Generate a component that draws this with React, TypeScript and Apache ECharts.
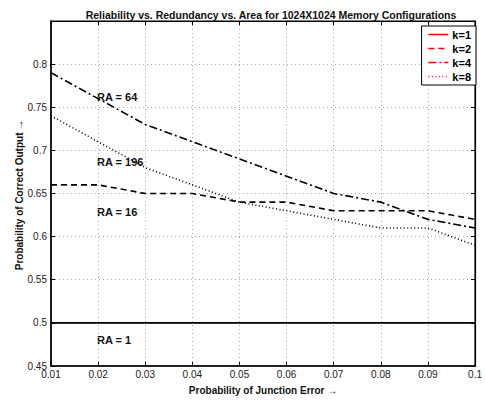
import React, { useEffect, useRef } from "react";
import * as echarts from "echarts";

const xValues = [0.01, 0.02, 0.03, 0.04, 0.05, 0.06, 0.07, 0.08, 0.09, 0.1];
const k1 = [0.5, 0.5, 0.5, 0.5, 0.5, 0.5, 0.5, 0.5, 0.5, 0.5];
const k2 = [0.66, 0.66, 0.65, 0.65, 0.64, 0.64, 0.63, 0.63, 0.63, 0.62];
const k4 = [0.79, 0.76, 0.73, 0.71, 0.69, 0.67, 0.65, 0.64, 0.62, 0.61];
const k8 = [0.74, 0.71, 0.68, 0.66, 0.64, 0.63, 0.62, 0.61, 0.61, 0.59];
const seriesNames = ["k=1", "k=2", "k=4", "k=8"];
const raLabels = ["RA = 64", "RA = 196", "RA = 16", "RA = 1"];
const yAxisTitle = "Probability of Correct Output \u2192";
const xAxisTitle = "Probability of Junction Error \u2192";

const FONT = "Liberation Sans, Arial, Helvetica, sans-serif";

export default function App() {
  const ref = useRef<HTMLDivElement>(null);
  useEffect(() => {
    if (!ref.current) return;
    const chart = echarts.init(ref.current, undefined, { renderer: "svg" });
    const pair = (ys: number[]) => xValues.map((x, i) => [x, ys[i]]);
    const mk = (name: string, ys: number[], type: any) => ({
      name,
      type: "line",
      data: pair(ys),
      showSymbol: false,
      symbol: "none",
      color: "#000",
      lineStyle: { color: "#000", width: 1.6, type },
      z: 3,
    });
    const axisLabelStyle = { color: "#222", fontSize: 10, fontFamily: FONT };
    chart.setOption({
      animation: false,
      backgroundColor: "#fff",
      title: {
        text: "Reliability vs. Redundancy vs. Area for 1024X1024 Memory Configurations",
        left: 266,
        textAlign: "center",
        top: 4,
        textStyle: { fontSize: 10.5, fontWeight: "bold", color: "#111", fontFamily: FONT },
      },
      grid: {
        left: 51,
        right: 6,
        top: 21,
        bottom: 30,
        show: true,
        borderColor: "#000",
        borderWidth: 1.2,
        backgroundColor: "#fff",
      },
      legend: {
        right: 9,
        top: 26,
        orient: "vertical",
        data: seriesNames,
        backgroundColor: "#fff",
        borderColor: "#000",
        borderWidth: 1,
        borderRadius: 0,
        padding: [3, 5, 3, 6],
        itemGap: 3,
        itemWidth: 20,
        itemHeight: 10,
        lineStyle: { color: "#ff0000", width: 1.5 },
        itemStyle: { opacity: 0 },
        textStyle: { fontSize: 11, fontWeight: "bold", color: "#000", fontFamily: FONT, padding: [0, 0, 0, -1] },
      },
      xAxis: [
        {
          type: "value",
          min: 0.01,
          max: 0.1,
          interval: 0.01,
          name: xAxisTitle,
          nameLocation: "middle",
          nameGap: 19,
          nameTextStyle: { fontSize: 10, fontWeight: "bold", color: "#111", fontFamily: FONT },
          axisLine: { show: true, lineStyle: { color: "#000", width: 1.5 } },
          axisTick: { inside: true, length: 4, lineStyle: { color: "#000" } },
          axisLabel: { ...axisLabelStyle, margin: 3, formatter: (v: number) => String(+v.toFixed(2)) },
          splitLine: { show: true, lineStyle: { color: "#aaa", type: [1, 3], width: 1 } },
        },
        {
          type: "value",
          position: "top",
          min: 0.01,
          max: 0.1,
          interval: 0.01,
          axisLine: { show: true, lineStyle: { color: "#000", width: 1.2 } },
          axisTick: { inside: true, length: 4, lineStyle: { color: "#000" } },
          axisLabel: { show: false },
          splitLine: { show: false },
        },
      ],
      yAxis: [
        {
          type: "value",
          min: 0.45,
          max: 0.85,
          interval: 0.05,
          axisLine: { show: true, lineStyle: { color: "#000", width: 1.5 } },
          axisTick: { inside: true, length: 4, lineStyle: { color: "#000" } },
          axisLabel: {
            ...axisLabelStyle,
            margin: 4,
            showMaxLabel: false,
            formatter: (v: number) => (Math.abs(v - 0.85) < 1e-6 ? "" : String(+v.toFixed(2))),
          },
          splitLine: { show: true, lineStyle: { color: "#aaa", type: [1, 3], width: 1 } },
        },
        {
          type: "value",
          position: "right",
          min: 0.45,
          max: 0.85,
          interval: 0.05,
          axisLine: { show: true, lineStyle: { color: "#000", width: 1.2 } },
          axisTick: { inside: true, length: 4, lineStyle: { color: "#000" } },
          axisLabel: { show: false },
          splitLine: { show: false },
        },
      ],
      series: [
        mk(seriesNames[0], k1, "solid"),
        mk(seriesNames[1], k2, [6, 4]),
        mk(seriesNames[2], k4, [8, 3, 2, 3]),
        mk(seriesNames[3], k8, [1, 2.5]),
      ],
      graphic: [
        {
          type: "text",
          x: 19,
          y: 195,
          rotation: Math.PI / 2,
          style: {
            text: yAxisTitle,
            fontSize: 10,
            fontWeight: "bold",
            fill: "#111",
            fontFamily: FONT,
            align: "center",
            verticalAlign: "middle",
          },
        },
        { type: "text", left: 97, top: 91, style: { text: raLabels[0], fontSize: 11, fontWeight: "bold", fill: "#111", fontFamily: FONT } },
        { type: "text", left: 97, top: 156, style: { text: raLabels[1], fontSize: 11, fontWeight: "bold", fill: "#111", fontFamily: FONT } },
        { type: "text", left: 97, top: 206, style: { text: raLabels[2], fontSize: 11, fontWeight: "bold", fill: "#111", fontFamily: FONT } },
        { type: "text", left: 97, top: 334, style: { text: raLabels[3], fontSize: 11, fontWeight: "bold", fill: "#111", fontFamily: FONT } },
      ],
    });
    return () => chart.dispose();
  }, []);
  return <div ref={ref} style={{ width: 485, height: 400, position: "absolute", left: 0, top: 0 }} />;
}
